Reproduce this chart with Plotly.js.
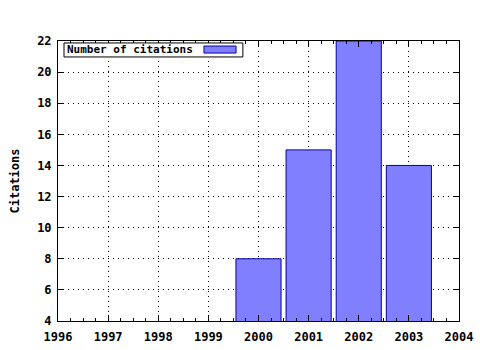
<!DOCTYPE html>
<html>
<head>
<meta charset="utf-8">
<script src="https://cdn.plot.ly/plotly-3.0.1.min.js"></script>
<style>html,body{margin:0;padding:0;background:#fff;}#chart{width:480px;height:350px;}</style>
</head>
<body>
<div id="chart"></div>
<script>
const years = [2000, 2001, 2002, 2003];
const citations = [8, 15, 22, 14];
const seriesName = "Number of citations";
const xTicks = [1996, 1997, 1998, 1999, 2000, 2001, 2002, 2003, 2004];
const yTicks = [4, 6, 8, 10, 12, 14, 16, 18, 20, 22];

const font = {family: "DejaVu Sans Mono, Liberation Mono, monospace", size: 12, color: "#000", weight: "bold"};
const legendFont = Object.assign({}, font, {size: 11});

const axisCommon = {
  showline: true, linecolor: "#000", linewidth: 1, mirror: "ticks",
  ticks: "inside", ticklen: 6, tickcolor: "#000", tickwidth: 1,
  showgrid: true, gridcolor: "#000", griddash: "1px,4px", gridwidth: 1,
  zeroline: false, tickfont: font
};

const trace = {
  type: "bar", x: years, y: citations, name: seriesName, width: 0.9,
  marker: {color: "#8080ff", line: {color: "#0000a0", width: 1}},
  showlegend: false
};

const layout = {
  width: 480, height: 350,
  margin: {l: 58, r: 21, t: 41, b: 29},
  paper_bgcolor: "#fff", plot_bgcolor: "#fff",
  font: font,
  xaxis: Object.assign({}, axisCommon, {
    range: [1996, 2004], tickvals: xTicks, ticktext: xTicks.map(String),
    ticklabelstandoff: 5,
    minor: {dtick: 0.25, ticks: "inside", ticklen: 3, tickcolor: "#000", showgrid: false}
  }),
  yaxis: Object.assign({}, axisCommon, {
    range: [4, 22], tickvals: yTicks, ticktext: yTicks.map(String),
    ticklabelstandoff: 3,
    title: {text: "Citations", font: font, standoff: 14}
  }),
  annotations: [{
    xref: "paper", yref: "paper", x: 0.018, y: 0.968, xanchor: "left", yanchor: "middle",
    text: seriesName, showarrow: false, align: "left", font: legendFont
  }],
  shapes: [
    {type: "rect", xref: "paper", yref: "paper", x0: 0.015, x1: 0.461, y0: 0.943, y1: 0.993,
     fillcolor: "#fff", line: {color: "#000", width: 1}, layer: "above"},
    {type: "rect", xref: "paper", yref: "paper", x0: 0.364, x1: 0.444, y0: 0.957, y1: 0.982,
     fillcolor: "#8080ff", line: {color: "#0000a0", width: 1}, layer: "above"}
  ]
};

Plotly.newPlot("chart", [trace], layout, {displayModeBar: false, staticPlot: true});
</script>
</body>
</html>
